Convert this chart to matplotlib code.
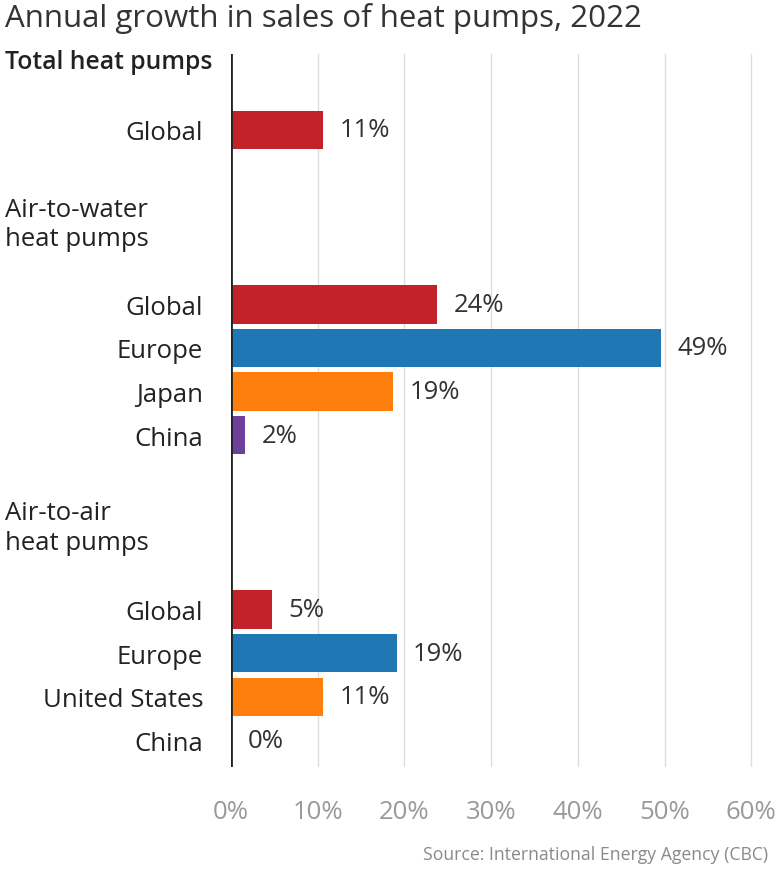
import matplotlib.pyplot as plt
import matplotlib.transforms as mtransforms

plt.rcParams['font.family'] = ['Open Sans', 'DejaVu Sans']

# rows: group headers take up empty rows between the bars
categories = ['Global', 'Global', 'Europe', 'Japan', 'China',
              'Global', 'Europe', 'United States', 'China']
rows = [0, 4, 5, 6, 7, 11, 12, 13, 14]
values = [10.6, 23.8, 49.6, 18.7, 1.6, 4.7, 19.1, 10.6, 0]
value_labels = ['11%', '24%', '49%', '19%', '2%', '5%', '19%', '11%', '0%']
bar_colors = ['#c4222b', '#c4222b', '#1f77b4', '#ff7f0e', '#6f3f9c',
              '#c4222b', '#1f77b4', '#ff7f0e', '#ff7f0e']
groups = ['Total heat pumps', 'Air-to-water\nheat pumps', 'Air-to-air\nheat pumps']
group_rows = [-1.56, 2.15, 9.12]
group_weights = ['semibold', 'medium', 'medium']
group_sizes = [17.8, 18.5, 18.5]
xticks = [0, 10, 20, 30, 40, 50, 60]

fig = plt.figure(figsize=(7.8, 8.7), dpi=100)
W, H = 780, 870
ax = fig.add_axes([231 / W, 1 - 768 / H, 529 / W, (768 - 55) / H])

ax.barh(rows, values, height=0.88, color=bar_colors, zorder=3)
for r, v, lab in zip(rows, values, value_labels):
    ax.text(v + 1.9, r, lab, va='center', ha='left', fontsize=18.5, color='#333333')

ax.set_xlim(0, 61)
ax.set_ylim(14.61, -1.74)
ax.set_xticks(xticks)
ax.set_xticklabels([f'{t}%' for t in xticks])
ax.set_yticks(rows)
ax.set_yticklabels(categories)
ax.tick_params(axis='y', length=0, pad=20, labelsize=18.5, labelcolor='#222222')
ax.tick_params(axis='x', length=0, pad=23, labelsize=18.5, labelcolor='#9a9a9a')
ax.grid(axis='x', color='#dddddd', linewidth=1, zorder=0)
for s in ax.spines.values():
    s.set_visible(False)
ax.axvline(0, color='#222222', linewidth=2, zorder=4)

trans = mtransforms.blended_transform_factory(fig.transFigure, ax.transData)
for g, gr, gw, gs in zip(groups, group_rows, group_weights, group_sizes):
    ax.text(5 / W, gr, g, transform=trans, ha='left', va='center', fontsize=gs,
            color='#222222', fontweight=gw, linespacing=1.22)

fig.text(5 / W, 1 - 19 / H, 'Annual growth in sales of heat pumps, 2022',
         ha='left', va='center', fontsize=22.5, color='#333333')
fig.text(768 / W, 1 - 855 / H, 'Source: International Energy Agency (CBC)',
         ha='right', va='center', fontsize=12.7, color='#8a8a8a')

fig.savefig('out.png', dpi=100)
